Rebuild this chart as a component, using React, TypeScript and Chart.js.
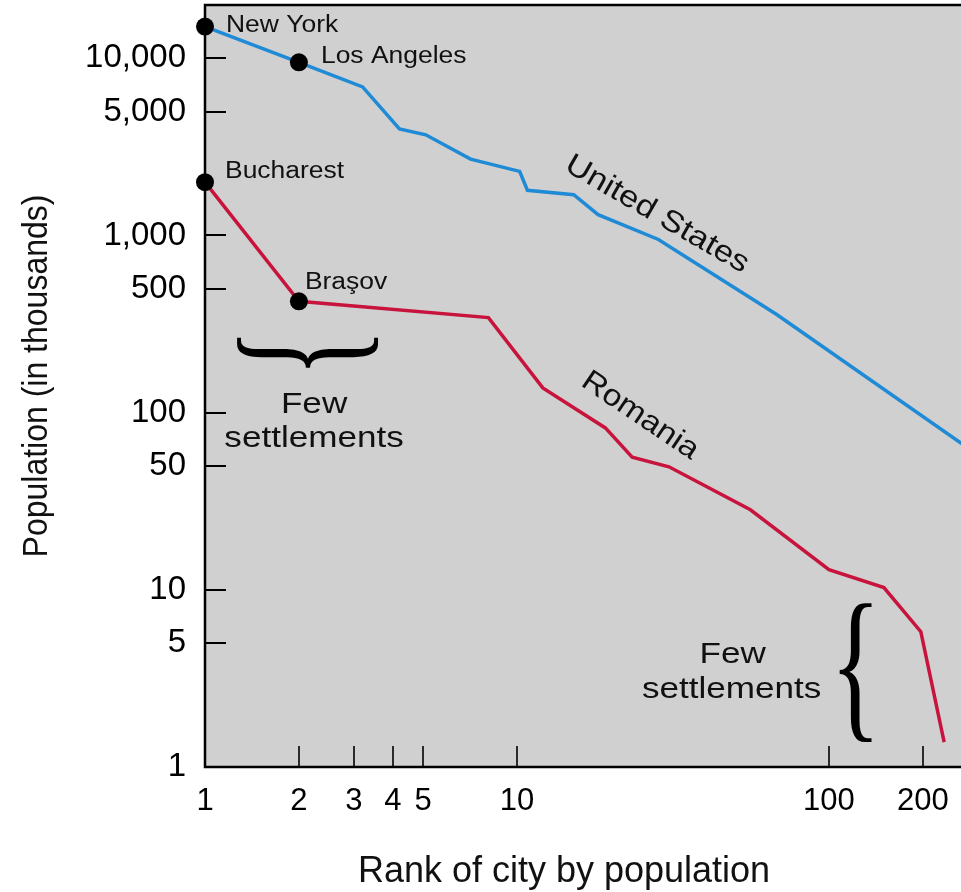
import React, { useEffect, useRef } from "react";
import { Chart, registerables } from "chart.js";

Chart.register(...registerables);

// ---- data ----
const xTickValues = [1, 2, 3, 4, 5, 10, 100, 200];
const yTickValues = [1, 5, 10, 50, 100, 500, 1000, 5000, 10000];

const usRanks = [1, 2, 3.2, 4.2, 5.1, 7.1, 10.2, 10.8, 15.2, 18.2, 28.4, 68, 283];
const usPopulation = [15100, 9500, 6900, 4000, 3700, 2700, 2300, 1800, 1700, 1310, 950, 358, 62];
const usCities = ["New York", "Los Angeles"];

const roRanks = [1, 2, 8.1, 12.1, 19.2, 23.4, 30.7, 56, 100, 150, 197, 234];
const roPopulation = [2000, 425, 344, 138, 82, 56, 49.5, 28.3, 13, 10.3, 5.8, 1.38];
const roCities = ["Bucharest", "Braşov"];

const seriesNames = ["United States", "Romania"];
const noteLines = ["Few", "settlements"];

// ---- styling ----
const BLUE = "#1f8ad6";
const RED = "#c8143c";
const GRAY = "#d0d0d0";
const INK = "#111";
const SANS = '"Liberation Sans", Arial, Helvetica, sans-serif';

type TextOpts = {
  size: number;
  sx?: number;
  align?: CanvasTextAlign;
  baseline?: CanvasTextBaseline;
  rot?: number;
};

function drawText(ctx: CanvasRenderingContext2D, text: string, x: number, y: number, o: TextOpts) {
  ctx.save();
  ctx.translate(x, y);
  if (o.rot) ctx.rotate(o.rot);
  ctx.scale(o.sx ?? 1, 1);
  ctx.font = `${o.size}px ${SANS}`;
  ctx.textAlign = o.align ?? "left";
  ctx.textBaseline = o.baseline ?? "alphabetic";
  ctx.fillStyle = INK;
  ctx.fillText(text, 0, 0);
  ctx.restore();
}

// draws a "{" glyph fitted into a w x h screen box centred on (cx, cy)
function drawBrace(ctx: CanvasRenderingContext2D, cx: number, cy: number, w: number, h: number, tipDown: boolean) {
  ctx.save();
  ctx.font = `200px "Liberation Serif", "DejaVu Serif", serif`;
  ctx.textAlign = "left";
  ctx.textBaseline = "alphabetic";
  const m = ctx.measureText("{");
  const left = -m.actualBoundingBoxLeft;
  const right = m.actualBoundingBoxRight;
  const top = -m.actualBoundingBoxAscent;
  const bottom = m.actualBoundingBoxDescent;
  const gw = right - left;
  const gh = bottom - top;
  ctx.translate(cx, cy);
  if (tipDown) {
    ctx.rotate(-Math.PI / 2);
    ctx.scale(h / gw, w / gh);
  } else {
    ctx.scale(w / gw, h / gh);
  }
  ctx.fillStyle = "#000";
  ctx.fillText("{", -(left + right) / 2, -(top + bottom) / 2);
  ctx.restore();
}

const framePlugin = {
  id: "frame",
  beforeDraw(chart: any) {
    const { ctx, chartArea: a } = chart;
    ctx.save();
    ctx.fillStyle = GRAY;
    ctx.fillRect(a.left, a.top, a.right - a.left, a.bottom - a.top);
    ctx.restore();
  },
  beforeDatasetsDraw(chart: any) {
    const { ctx, chartArea: a, scales } = chart;
    ctx.save();
    ctx.strokeStyle = "#000";
    // inner tick marks
    ctx.lineWidth = 2;
    yTickValues.forEach((v) => {
      if (v === 1) return;
      const y = Math.round(scales.y.getPixelForValue(v));
      ctx.beginPath();
      ctx.moveTo(a.left, y);
      ctx.lineTo(a.left + 21, y);
      ctx.stroke();
    });
    ctx.lineWidth = 1.6;
    xTickValues.forEach((v) => {
      if (v === 1) return;
      const x = Math.round(scales.x.getPixelForValue(v));
      ctx.beginPath();
      ctx.moveTo(x, a.bottom);
      ctx.lineTo(x, a.bottom - 21);
      ctx.stroke();
    });
    // frame
    ctx.lineWidth = 2.5;
    ctx.beginPath();
    ctx.moveTo(a.right + 2, a.top);
    ctx.lineTo(a.left, a.top);
    ctx.lineTo(a.left, a.bottom);
    ctx.lineTo(a.right + 2, a.bottom);
    ctx.stroke();
    ctx.restore();
  },
  afterDatasetsDraw(chart: any) {
    const { ctx, scales } = chart;
    const X = (v: number) => scales.x.getPixelForValue(v);
    const Y = (v: number) => scales.y.getPixelForValue(v);

    // city labels next to the marked points
    const usOff = [
      [21, 5],
      [22, 1],
    ];
    usCities.forEach((name, i) => {
      drawText(ctx, name, X(usRanks[i]) + usOff[i][0], Y(usPopulation[i]) + usOff[i][1], { size: 23, sx: 1.15 });
    });
    const roOff = [
      [20, -4],
      [6, -12],
    ];
    roCities.forEach((name, i) => {
      drawText(ctx, name, X(roRanks[i]) + roOff[i][0], Y(roPopulation[i]) + roOff[i][1], { size: 23, sx: 1.15 });
    });

    // series names along the lines
    drawText(ctx, seriesNames[0], X(28.1), Y(1314), {
      size: 30,
      sx: 1.15,
      align: "center",
      baseline: "middle",
      rot: (30 * Math.PI) / 180,
    });
    drawText(ctx, seriesNames[1], X(24.8), Y(96), {
      size: 30,
      sx: 1.12,
      align: "center",
      baseline: "middle",
      rot: (34 * Math.PI) / 180,
    });

    // left brace (under Bucharest / Braşov)
    const lbx = X(2.14);
    const lby = Y(218);
    drawBrace(ctx, lbx, lby, 140, 30, true);
    drawText(ctx, noteLines[0], lbx + 6, lby + 60, { size: 30, sx: 1.17, align: "center" });
    drawText(ctx, noteLines[1], lbx + 6, lby + 94, { size: 30, sx: 1.17, align: "center" });

    // right brace (small settlements)
    const rbx = X(121.8);
    const rby = Y(3.35);
    drawBrace(ctx, rbx, rby, 32, 138, false);
    drawText(ctx, noteLines[0], rbx - 123, rby - 11, { size: 30, sx: 1.17, align: "center" });
    drawText(ctx, noteLines[1], rbx - 124, rby + 24, { size: 30, sx: 1.17, align: "center" });
  },
  afterDraw(chart: any) {
    const { ctx } = chart;
    drawText(ctx, "Rank of city by population", 564, 882, { size: 36, align: "center" });
    ctx.save();
    ctx.translate(47, 376);
    ctx.rotate(-Math.PI / 2);
    ctx.scale(1, 1.1);
    ctx.font = `32px ${SANS}`;
    ctx.textAlign = "center";
    ctx.textBaseline = "alphabetic";
    ctx.fillStyle = INK;
    ctx.fillText("Population (in thousands)", 0, 0);
    ctx.restore();
  },
};

export default function App() {
  const canvasRef = useRef<HTMLCanvasElement | null>(null);

  useEffect(() => {
    if (!canvasRef.current) return;
    const chart = new Chart(canvasRef.current, {
      type: "line",
      data: {
        datasets: [
          {
            label: seriesNames[0],
            data: usRanks.map((r, i) => ({ x: r, y: usPopulation[i] })),
            borderColor: BLUE,
            borderWidth: 3.5,
            pointRadius: usRanks.map((_, i) => (i < usCities.length ? 9 : 0)),
            pointBackgroundColor: "#000",
            pointBorderWidth: 0,
            tension: 0,
            clip: false as any,
          },
          {
            label: seriesNames[1],
            data: roRanks.map((r, i) => ({ x: r, y: roPopulation[i] })),
            borderColor: RED,
            borderWidth: 3.5,
            pointRadius: roRanks.map((_, i) => (i < roCities.length ? 9 : 0)),
            pointBackgroundColor: "#000",
            pointBorderWidth: 0,
            tension: 0,
            clip: false as any,
          },
        ],
      },
      options: {
        responsive: false,
        animation: false,
        events: [],
        layout: { autoPadding: false, padding: { top: 5, left: 0, right: 0, bottom: 0 } },
        plugins: {
          legend: { display: false },
          tooltip: { enabled: false },
        },
        scales: {
          x: {
            type: "logarithmic",
            position: "bottom",
            min: 1,
            max: 265,
            afterBuildTicks: (s: any) => {
              s.ticks = xTickValues.map((v) => ({ value: v }));
            },
            afterFit: (s: any) => {
              s.height = 125;
              s.paddingLeft = 0;
              s.paddingRight = 0;
              s.paddingTop = 0;
              s.paddingBottom = 0;
            },
            grid: { display: false, drawTicks: false },
            border: { display: false },
            ticks: {
              autoSkip: false,
              maxRotation: 0,
              minRotation: 0,
              padding: 16,
              color: "#000",
              font: { family: SANS, size: 31 },
              callback: (v: any) => String(v),
            },
          },
          y: {
            type: "logarithmic",
            position: "left",
            min: 1,
            max: 20000,
            afterBuildTicks: (s: any) => {
              s.ticks = yTickValues.map((v) => ({ value: v }));
            },
            afterFit: (s: any) => {
              s.width = 205;
              s.paddingLeft = 0;
              s.paddingRight = 0;
              s.paddingTop = 0;
              s.paddingBottom = 0;
            },
            grid: { display: false, drawTicks: false },
            border: { display: false },
            ticks: {
              autoSkip: false,
              padding: 19,
              color: "#000",
              font: { family: SANS, size: 33 },
              callback: (v: any) => Number(v).toLocaleString("en-US"),
            },
          },
        },
      },
      plugins: [framePlugin],
    });
    return () => chart.destroy();
  }, []);

  return (
    <div style={{ position: "absolute", left: 0, top: 0, width: 961, height: 892, background: "#fff" }}>
      <canvas ref={canvasRef} width={961} height={892} style={{ display: "block" }} />
    </div>
  );
}
